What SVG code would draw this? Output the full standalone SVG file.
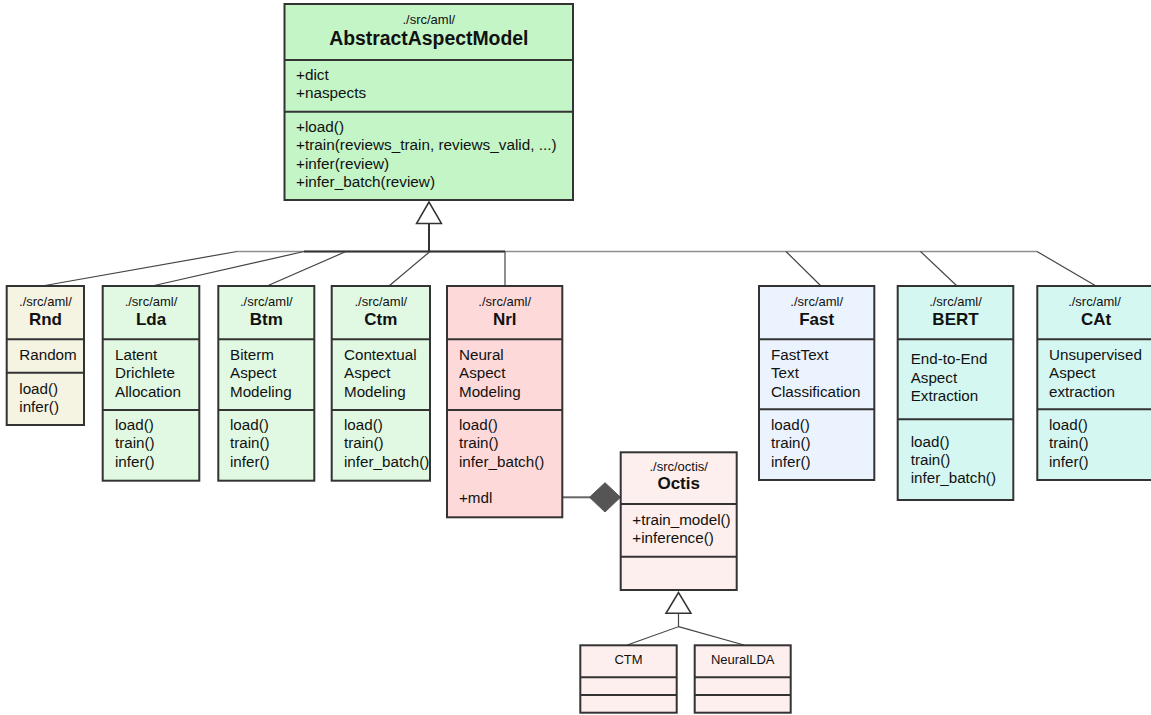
<svg xmlns="http://www.w3.org/2000/svg" width="1151" height="715" viewBox="0 0 1151 715">
<style>
.box{stroke:#333;stroke-width:2}
.div{stroke:#333;stroke-width:2;fill:none}
text{font-family:"Liberation Sans",Arial,sans-serif;fill:#111}
.pk{font-size:13px;text-anchor:middle}
.nm{font-size:17px;font-weight:bold;text-anchor:middle}
.t{font-size:15.2px}
.sm{font-size:13px;text-anchor:middle}
.g1{fill:#c3f5c6}.g2{fill:#e1f9e2}.rn{fill:#f5f3e2}.rd{fill:#fed9da}.bl{fill:#ebf3fe}.mt{fill:#d5f7f1}.oc{fill:#fdefee}
.cn{fill:none;stroke:#444;stroke-width:1.2}
.hl{fill:none;stroke:#8e8e8e;stroke-width:1.6}
</style>
<g id="connectors">
  <line class="hl" x1="237" y1="251.5" x2="1037" y2="251.5"/>
  <line x1="304" y1="251.5" x2="505" y2="251.5" stroke="#333" stroke-width="1.8"/>
  <line x1="429" y1="223" x2="429" y2="251.5" stroke="#333" stroke-width="2"/>
  <polygon points="429,202 416.5,223.5 441.5,223.5" fill="#fff" stroke="#333" stroke-width="1.5"/>
  <line class="cn" x1="42" y1="286" x2="237" y2="251.5"/>
  <line class="cn" x1="152" y1="286" x2="304" y2="251.5"/>
  <line class="cn" x1="267" y1="286" x2="346" y2="251.5" stroke-width="1.6" stroke="#222"/>
  <line class="cn" x1="389" y1="286" x2="430" y2="251.5"/>
  <line class="cn" x1="505" y1="286" x2="505" y2="251.5" stroke="#666"/>
  <line class="cn" x1="786" y1="251.5" x2="821" y2="286" stroke="#222"/>
  <line class="cn" x1="920.5" y1="251.5" x2="957" y2="286" stroke="#222"/>
  <line class="cn" x1="1037" y1="251.5" x2="1096" y2="286"/>
  <line x1="562" y1="497.3" x2="590" y2="497.3" stroke="#666" stroke-width="2"/>
  <polygon points="589.5,497.3 605,482.7 620.5,497.3 605,512" fill="#555" stroke="#555" stroke-width="1"/>
  <polygon points="678.5,592.5 666,613.3 691,613.3" fill="#fff" stroke="#333" stroke-width="1.5"/>
  <polyline class="cn" points="678.5,613.3 678.5,626.7 627.3,645"/>
  <line class="cn" x1="678.5" y1="626.7" x2="744" y2="645"/>
</g>
<g id="AbstractAspectModel">
  <rect class="box g1" x="284.5" y="4" width="288.5" height="196"/>
  <line class="div" x1="284.5" y1="60" x2="573" y2="60"/>
  <line class="div" x1="284.5" y1="111.7" x2="573" y2="111.7"/>
  <text class="pk" x="428.8" y="24">./src/aml/</text>
  <text x="428.8" y="45" style="font-size:19.4px;font-weight:bold;text-anchor:middle">AbstractAspectModel</text>
  <text class="t" x="296" y="80" style="font-size:15.3px">+dict</text>
  <text class="t" x="296" y="98.3" style="font-size:15.3px">+naspects</text>
  <text class="t" x="296" y="132" style="font-size:15.3px">+load()</text>
  <text class="t" x="296" y="150.4" style="font-size:15.3px">+train(reviews_train, reviews_valid, ...)</text>
  <text class="t" x="296" y="168.8" style="font-size:15.3px">+infer(review)</text>
  <text class="t" x="296" y="187.2" style="font-size:15.3px">+infer_batch(review)</text>
</g>
<g id="Rnd">
  <rect class="box rn" x="6.7" y="286" width="77.3" height="139"/>
  <line class="div" x1="6.7" y1="339.3" x2="84" y2="339.3"/>
  <line class="div" x1="6.7" y1="372.7" x2="84" y2="372.7"/>
  <text class="pk" x="45.4" y="306">./src/aml/</text>
  <text class="nm" x="45.4" y="325">Rnd</text>
  <text class="t" x="19.3" y="360">Random</text>
  <text class="t" x="19.3" y="393.5">load()</text>
  <text class="t" x="19.3" y="411.8">infer()</text>
</g>
<g id="Lda">
  <rect class="box g2" x="102.7" y="286" width="96.6" height="194.7"/>
  <line class="div" x1="102.7" y1="339.3" x2="199.3" y2="339.3"/>
  <line class="div" x1="102.7" y1="410" x2="199.3" y2="410"/>
  <text class="pk" x="151" y="306">./src/aml/</text>
  <text class="nm" x="151" y="325">Lda</text>
  <text class="t" x="115" y="360">Latent</text>
  <text class="t" x="115" y="378.3">Drichlete</text>
  <text class="t" x="115" y="396.6">Allocation</text>
  <text class="t" x="115" y="430">load()</text>
  <text class="t" x="115" y="448.3">train()</text>
  <text class="t" x="115" y="466.6">infer()</text>
</g>
<g id="Btm">
  <rect class="box g2" x="218.3" y="286" width="96" height="194.7"/>
  <line class="div" x1="218.3" y1="339.3" x2="314.3" y2="339.3"/>
  <line class="div" x1="218.3" y1="410" x2="314.3" y2="410"/>
  <text class="pk" x="266.3" y="306">./src/aml/</text>
  <text class="nm" x="266.3" y="325">Btm</text>
  <text class="t" x="230" y="360">Biterm</text>
  <text class="t" x="230" y="378.3">Aspect</text>
  <text class="t" x="230" y="396.6">Modeling</text>
  <text class="t" x="230" y="430">load()</text>
  <text class="t" x="230" y="448.3">train()</text>
  <text class="t" x="230" y="466.6">infer()</text>
</g>
<g id="Ctm">
  <rect class="box g2" x="331.7" y="286" width="98.3" height="194.7"/>
  <line class="div" x1="331.7" y1="339.3" x2="430" y2="339.3"/>
  <line class="div" x1="331.7" y1="410" x2="430" y2="410"/>
  <text class="pk" x="380.8" y="306">./src/aml/</text>
  <text class="nm" x="380.8" y="325">Ctm</text>
  <text class="t" x="344" y="360">Contextual</text>
  <text class="t" x="344" y="378.3">Aspect</text>
  <text class="t" x="344" y="396.6">Modeling</text>
  <text class="t" x="344" y="430">load()</text>
  <text class="t" x="344" y="448.3">train()</text>
  <text class="t" x="344" y="466.6">infer_batch()</text>
</g>
<g id="Nrl">
  <rect class="box rd" x="447" y="286" width="115.3" height="231.3"/>
  <line class="div" x1="447" y1="339.3" x2="562.3" y2="339.3"/>
  <line class="div" x1="447" y1="410" x2="562.3" y2="410"/>
  <text class="pk" x="504.7" y="306">./src/aml/</text>
  <text class="nm" x="504.7" y="325">Nrl</text>
  <text class="t" x="459" y="360">Neural</text>
  <text class="t" x="459" y="378.3">Aspect</text>
  <text class="t" x="459" y="396.6">Modeling</text>
  <text class="t" x="459" y="430">load()</text>
  <text class="t" x="459" y="448.3">train()</text>
  <text class="t" x="459" y="466.6">infer_batch()</text>
  <text class="t" x="459" y="503.2">+mdl</text>
</g>
<g id="Fast">
  <rect class="box bl" x="759" y="286" width="115.3" height="194"/>
  <line class="div" x1="759" y1="339.3" x2="874.3" y2="339.3"/>
  <line class="div" x1="759" y1="409.3" x2="874.3" y2="409.3"/>
  <text class="pk" x="816.7" y="306">./src/aml/</text>
  <text class="nm" x="816.7" y="325">Fast</text>
  <text class="t" x="771" y="360">FastText</text>
  <text class="t" x="771" y="378.3">Text</text>
  <text class="t" x="771" y="396.6">Classification</text>
  <text class="t" x="771" y="430">load()</text>
  <text class="t" x="771" y="448.3">train()</text>
  <text class="t" x="771" y="466.6">infer()</text>
</g>
<g id="BERT">
  <rect class="box mt" x="897.7" y="286" width="115.6" height="214"/>
  <line class="div" x1="897.7" y1="339.3" x2="1013.3" y2="339.3"/>
  <line class="div" x1="897.7" y1="419.3" x2="1013.3" y2="419.3"/>
  <text class="pk" x="955.5" y="306">./src/aml/</text>
  <text class="nm" x="955.5" y="325">BERT</text>
  <text class="t" x="910.7" y="364.3">End-to-End</text>
  <text class="t" x="910.7" y="382.6">Aspect</text>
  <text class="t" x="910.7" y="400.9">Extraction</text>
  <text class="t" x="910.7" y="446.7">load()</text>
  <text class="t" x="910.7" y="465">train()</text>
  <text class="t" x="910.7" y="483.3">infer_batch()</text>
</g>
<g id="CAt">
  <rect class="box mt" x="1037.3" y="286" width="116" height="194"/>
  <line class="div" x1="1037.3" y1="339.3" x2="1153" y2="339.3"/>
  <line class="div" x1="1037.3" y1="409.3" x2="1153" y2="409.3"/>
  <text class="pk" x="1094.5" y="306">./src/aml/</text>
  <text class="nm" x="1096" y="325">CAt</text>
  <text class="t" x="1049" y="360">Unsupervised</text>
  <text class="t" x="1049" y="378.3">Aspect</text>
  <text class="t" x="1049" y="396.6">extraction</text>
  <text class="t" x="1049" y="430">load()</text>
  <text class="t" x="1049" y="448.3">train()</text>
  <text class="t" x="1049" y="466.6">infer()</text>
</g>
<g id="Octis">
  <rect class="box oc" x="620.7" y="452.3" width="116" height="137.7"/>
  <line class="div" x1="620.7" y1="504" x2="736.7" y2="504"/>
  <line class="div" x1="620.7" y1="556.7" x2="736.7" y2="556.7"/>
  <text class="pk" x="678.7" y="471">./src/octis/</text>
  <text class="nm" x="678.7" y="489.3">Octis</text>
  <text class="t" x="632.3" y="525">+train_model()</text>
  <text class="t" x="632.3" y="543.3">+inference()</text>
</g>
<g id="CTM">
  <rect class="box oc" x="580.3" y="645.3" width="96.4" height="67.4"/>
  <line class="div" x1="580.3" y1="677.3" x2="676.7" y2="677.3"/>
  <line class="div" x1="580.3" y1="695" x2="676.7" y2="695"/>
  <text class="sm" x="628.5" y="664">CTM</text>
</g>
<g id="NeuralLDA">
  <rect class="box oc" x="694.7" y="645.3" width="96" height="67.4"/>
  <line class="div" x1="694.7" y1="677.3" x2="790.7" y2="677.3"/>
  <line class="div" x1="694.7" y1="695" x2="790.7" y2="695"/>
  <text class="sm" x="742.7" y="664">NeuralLDA</text>
</g>
</svg>
